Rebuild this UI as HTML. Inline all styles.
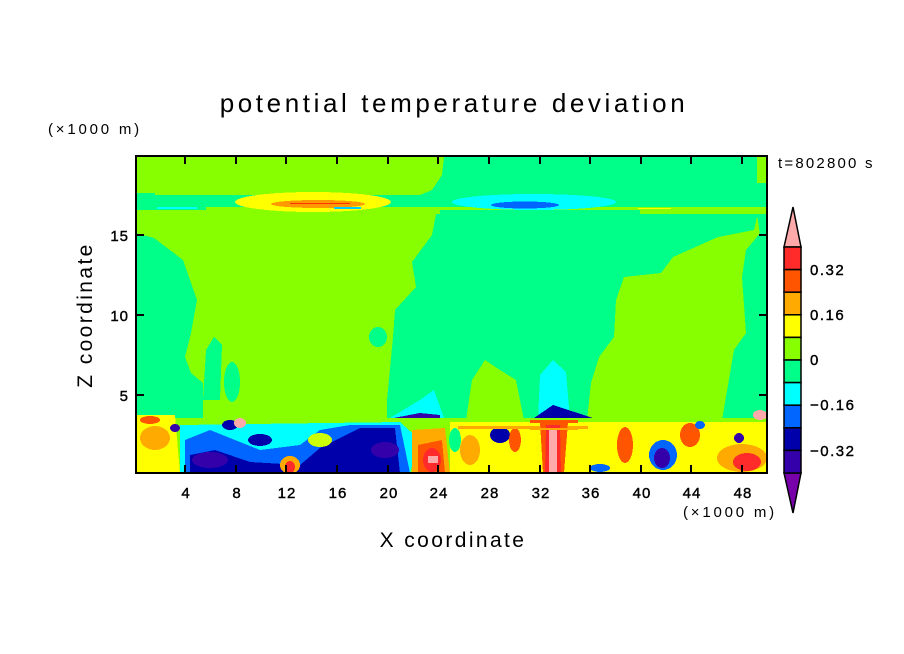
<!DOCTYPE html>
<html><head><meta charset="utf-8"><style>
body{margin:0;background:#fff;}
svg{display:block;font-family:"Liberation Sans",sans-serif;}
</style></head><body>
<svg width="904" height="654" viewBox="0 0 904 654" xmlns="http://www.w3.org/2000/svg">
<defs><clipPath id="c"><rect x="136" y="156" width="631" height="317"/></clipPath></defs>
<g clip-path="url(#c)" shape-rendering="crispEdges">
<rect x="136" y="156" width="631" height="317" fill="#00ff88"/>
<path d="M136,156 L444,156 L442,175 L432,190 L420,195 L136,195 Z" fill="#88ff00"/>
<path d="M136,193 L155,193 L155,207 L136,207Z" fill="#00ff88"/>
<rect x="757" y="156" width="10" height="27" fill="#88ff00"/>
<rect x="136" y="207" width="631" height="7" fill="#88ff00"/>
<rect x="136" y="207" width="70" height="3" fill="#00ff88"/>
<rect x="440" y="210" width="200" height="4" fill="#00ff88"/>
<ellipse cx="313" cy="202" rx="78" ry="10" fill="#ffff00"/>
<ellipse cx="318" cy="204" rx="47" ry="4" fill="#ff9900"/>
<rect x="290" y="203" width="60" height="1" fill="#ff3300"/>
<rect x="334" y="207" width="27" height="2" fill="#00ccff"/>
<ellipse cx="534" cy="202" rx="82" ry="8" fill="#00ffff"/>
<ellipse cx="525" cy="205" rx="34" ry="3.5" fill="#0066ff"/>
<rect x="157" y="207" width="40" height="2" fill="#00ffff"/>
<rect x="638" y="208" width="33" height="1" fill="#ffff00"/>
<path d="M136,214 L436,214 L432,235 L412,262 L416,287 L395,310 L393,337 L387,400 L387,420 L203,420 L203,383 L191,373 L185,357 L191,333 L197,300 L183,260 L154,238 L136,233 Z" fill="#88ff00"/>
<path d="M203,400 L206,350 L214,337 L222,345 L220,400 Z" fill="#00ff88"/>
<ellipse cx="232" cy="382" rx="8" ry="20" fill="#00ff88"/>
<ellipse cx="378" cy="337" rx="9" ry="10" fill="#00ff88"/>
<path d="M767,214 L757,217 L754,230 L718,237 L673,257 L661,273 L624,277 L616,300 L614,337 L599,357 L591,383 L587,420 L722,420 L734,350 L746,333 L742,277 L746,250 L767,225 Z" fill="#88ff00"/>
<path d="M757,214 L767,214 L767,420 L760,420 L758,300 L762,250 Z" fill="#00ff88"/>
<path d="M466,420 L472,380 L485,360 L500,370 L516,380 L524,420 Z" fill="#88ff00"/>
<path d="M538,420 L540,375 L553,360 L566,372 L570,420 Z" fill="#00ffff"/>
<path d="M390,418 L420,400 L434,390 L444,418 Z" fill="#00ffff"/>
<path d="M383,420 L420,413 L440,415 L440,422 L383,422Z" fill="#3300aa"/>
<path d="M534,418 L553,405 L593,418 Z" fill="#0000aa"/>
<rect x="136" y="418" width="631" height="55" fill="#88ff00"/>
<rect x="450" y="422" width="317" height="51" fill="#ffff00"/>
<path d="M136,415 L175,415 L180,473 L136,473Z" fill="#ffff00"/>
<ellipse cx="155" cy="438" rx="15" ry="12" fill="#ffaa00"/>
<ellipse cx="150" cy="420" rx="10" ry="4" fill="#ff5500"/>
<path d="M180,425 L400,422 L420,440 L410,473 L180,473 Z" fill="#00ffff"/>
<path d="M185,440 L210,430 L260,450 L300,445 L320,430 L350,425 L400,425 L410,473 L185,473 Z" fill="#0066ff"/>
<path d="M190,455 L215,450 L250,462 L300,465 L320,448 L360,428 L395,428 L400,473 L190,473 Z" fill="#0000aa"/>
<ellipse cx="210" cy="460" rx="18" ry="8" fill="#3300aa"/>
<ellipse cx="385" cy="450" rx="14" ry="8" fill="#3300aa"/>
<ellipse cx="260" cy="440" rx="12" ry="6" fill="#0000aa"/>
<ellipse cx="230" cy="425" rx="8" ry="5" fill="#0000aa"/>
<ellipse cx="290" cy="465" rx="10" ry="9" fill="#ffaa00"/>
<ellipse cx="290" cy="467" rx="5" ry="6" fill="#ff2a2a"/>
<ellipse cx="320" cy="440" rx="12" ry="7" fill="#ccff00"/>
<path d="M412,430 L445,428 L450,473 L412,473Z" fill="#ffaa00"/>
<path d="M418,445 L442,440 L445,473 L418,473Z" fill="#ff5500"/>
<ellipse cx="432" cy="460" rx="9" ry="12" fill="#ff2a2a"/>
<rect x="428" y="456" width="10" height="7" fill="#ffaaaa"/>
<ellipse cx="455" cy="440" rx="6" ry="12" fill="#00ff88"/>
<ellipse cx="470" cy="450" rx="10" ry="15" fill="#ffaa00"/>
<ellipse cx="500" cy="435" rx="10" ry="8" fill="#0000aa"/>
<ellipse cx="515" cy="440" rx="6" ry="12" fill="#ff5500"/>
<rect x="458" y="426" width="130" height="3" fill="#ffaa00"/>
<path d="M540,422 L568,422 L564,473 L543,473Z" fill="#ff5500"/>
<path d="M546,425 L560,425 L561,473 L545,473Z" fill="#ff2a2a"/>
<rect x="549" y="430" width="8" height="43" fill="#ffaaaa"/>
<rect x="530" y="420" width="48" height="3" fill="#ff5500"/>
<rect x="530" y="428" width="48" height="2" fill="#ffaa00"/>
<ellipse cx="625" cy="445" rx="8" ry="18" fill="#ff5500"/>
<ellipse cx="663" cy="455" rx="14" ry="15" fill="#0066ff"/>
<ellipse cx="662" cy="458" rx="8" ry="10" fill="#3300aa"/>
<ellipse cx="600" cy="468" rx="10" ry="4" fill="#0066ff"/>
<ellipse cx="690" cy="435" rx="10" ry="12" fill="#ff5500"/>
<ellipse cx="742" cy="458" rx="25" ry="14" fill="#ffaa00"/>
<ellipse cx="747" cy="462" rx="14" ry="9" fill="#ff2a2a"/>
<ellipse cx="739" cy="438" rx="5" ry="5" fill="#3300aa"/>
<ellipse cx="760" cy="415" rx="7" ry="5" fill="#ffaaaa"/>
<ellipse cx="240" cy="423" rx="6" ry="5" fill="#ffaaaa"/>
<ellipse cx="175" cy="428" rx="5" ry="4" fill="#3300aa"/>
<ellipse cx="700" cy="425" rx="5" ry="4" fill="#0066ff"/>
</g>
<rect x="136" y="156" width="631" height="317" fill="none" stroke="#000" stroke-width="2"/>
<g stroke="#000" stroke-width="2">
<path d="M136,235h8M136,315h8M136,395h8M767,235h-8M767,315h-8M767,395h-8"/>
<path d="M185,473v-8M236,473v-8M286,473v-8M337,473v-8M388,473v-8M438,473v-8M489,473v-8M540,473v-8M590,473v-8M641,473v-8M691,473v-8M742,473v-8"/>
<path d="M185,156v8M236,156v8M286,156v8M337,156v8M388,156v8M438,156v8M489,156v8M540,156v8M590,156v8M641,156v8M691,156v8M742,156v8"/>
</g>
<g font-size="15" fill="#000" text-anchor="middle" stroke="#000" stroke-width="0.4" letter-spacing="1">
<text x="186" y="498">4</text><text x="237" y="498">8</text><text x="287" y="498">12</text><text x="338" y="498">16</text><text x="389" y="498">20</text><text x="439" y="498">24</text><text x="490" y="498">28</text><text x="541" y="498">32</text><text x="591" y="498">36</text><text x="642" y="498">40</text><text x="692" y="498">44</text><text x="743" y="498">48</text>
</g>
<g font-size="15" fill="#000" text-anchor="end" stroke="#000" stroke-width="0.4" letter-spacing="1">
<text x="129" y="241">15</text><text x="129" y="321">10</text><text x="129" y="401">5</text>
</g>
<text x="683" y="517" font-size="15" letter-spacing="2.8">(×1000 m)</text>
<text x="48" y="134" font-size="15" letter-spacing="2.8">(×1000 m)</text>
<text x="454" y="112" font-size="26" letter-spacing="3.6" text-anchor="middle">potential temperature deviation</text>
<text x="453" y="547" font-size="21" letter-spacing="2.4" text-anchor="middle">X coordinate</text>
<text transform="translate(92,315) rotate(-90)" font-size="21" letter-spacing="2.4" text-anchor="middle">Z coordinate</text>
<text x="778" y="168" font-size="15" letter-spacing="2.2">t=802800 s</text>
<g stroke="#000" stroke-width="1.5">
<path d="M784,247 L793,207 L801,247Z" fill="#ffaaaa"/>
<path d="M784,473 L793,513 L801,473Z" fill="#7700aa"/>
<rect x="784" y="247" width="17" height="22.6" fill="#ff2a2a"/>
<rect x="784" y="269.6" width="17" height="22.6" fill="#ff5500"/>
<rect x="784" y="292.2" width="17" height="22.6" fill="#ffaa00"/>
<rect x="784" y="314.8" width="17" height="22.6" fill="#ffff00"/>
<rect x="784" y="337.4" width="17" height="22.6" fill="#88ff00"/>
<rect x="784" y="360" width="17" height="22.6" fill="#00ff88"/>
<rect x="784" y="382.6" width="17" height="22.6" fill="#00ffff"/>
<rect x="784" y="405.2" width="17" height="22.6" fill="#0066ff"/>
<rect x="784" y="427.8" width="17" height="22.6" fill="#0000aa"/>
<rect x="784" y="450.4" width="17" height="22.6" fill="#3300aa"/>
</g>
<g font-size="15" fill="#000" stroke="#000" stroke-width="0.4" letter-spacing="1.5">
<text x="810" y="275">0.32</text><text x="810" y="320">0.16</text><text x="810" y="365">0</text><text x="810" y="410">−0.16</text><text x="810" y="456">−0.32</text>
</g>
</svg>
</body></html>
